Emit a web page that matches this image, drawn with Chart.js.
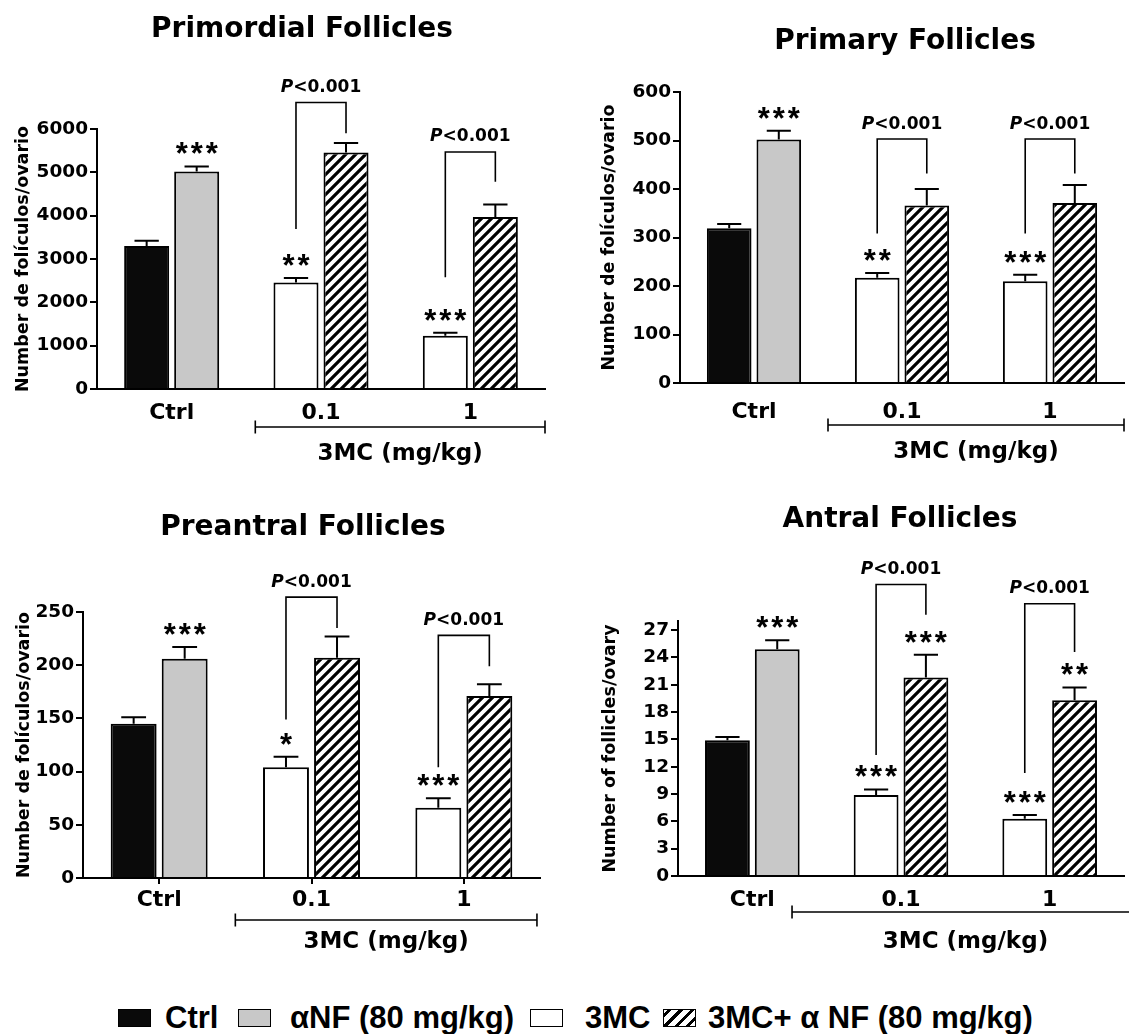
<!DOCTYPE html>
<html>
<head>
<meta charset="utf-8">
<script src="https://cdn.jsdelivr.net/npm/chart.js@4.4.1/dist/chart.umd.min.js"></script>
<style>
    html, body { margin: 0; padding: 0; background: #fff; }
    #fig { position: relative; width: 1129px; height: 1034px; overflow: hidden; background: #fff; }
    #fig canvas { position: absolute; }
    .sw { position: absolute; top: 1009px; width: 31px; height: 16px; border: 1.5px solid #000; box-sizing: content-box; }
    .lt { position: absolute; top: 1000px; line-height: 31px; white-space: nowrap;
          font: bold 31px "Liberation Sans", Arial, sans-serif; color: #000; }
</style>
</head>
<body>
<div id="fig">
    <canvas id="c_primordial" width="560" height="470" style="left:0px;top:0px"></canvas>
    <canvas id="c_primary" width="569" height="470" style="left:560px;top:0px"></canvas>
    <canvas id="c_preantral" width="560" height="490" style="left:0px;top:480px"></canvas>
    <canvas id="c_antral" width="569" height="490" style="left:560px;top:480px"></canvas>
    <div id="legend"></div>
</div>
<script>
// ---- data -------------------------------------------------------------
const categories = ['Ctrl', '0.1', '1'];
const legendLabels = ['Ctrl', 'αNF (80 mg/kg)', '3MC', '3MC+ α NF (80 mg/kg)'];

// left bar of each group = Ctrl / 3MC, right bar = αNF / 3MC+αNF
const primordialLeft = [3300, 2460, 1230];
const primordialLeftErr = [120, 100, 70];
const primordialRight = [5020, 5455, 3970];
const primordialRightErr = [115, 220, 290];
const primordialStarsLeft = ['', '**', '***'];
const primordialStarsRight = ['***', '', ''];
// [group, left leg end, bracket top, right leg end] in axis units
const primordialPairs = [[1, 3690, 6610, 5900], [2, 2580, 5470, 4780]];
const primordialTicks = [0, 1000, 2000, 3000, 4000, 5000, 6000];

const primaryLeft = [319, 217, 210];
const primaryLeftErr = [9, 10, 13];
const primaryRight = [502, 366, 371];
const primaryRightErr = [18, 34, 37];
const primaryStarsLeft = ['', '**', '***'];
const primaryStarsRight = ['***', '', ''];
const primaryPairs = [[1, 308, 503, 432], [2, 308, 503, 432]];
const primaryTicks = [0, 100, 200, 300, 400, 500, 600];

const preantralLeft = [145, 104, 66];
const preantralLeftErr = [6, 10, 9];
const preantralRight = [206, 207, 171];
const preantralRightErr = [11, 20, 11];
const preantralStarsLeft = ['', '*', '***'];
const preantralStarsRight = ['***', '', ''];
const preantralPairs = [[1, 149, 264, 235], [2, 104, 228, 199]];
const preantralTicks = [0, 50, 100, 150, 200, 250];

const antralLeft = [14.9, 8.9, 6.3];
const antralLeftErr = [0.35, 0.6, 0.4];
const antralRight = [24.9, 21.8, 19.3];
const antralRightErr = [1.0, 2.5, 1.4];
const antralStarsLeft = ['', '***', '***'];
const antralStarsRight = ['***', '***', '**'];
const antralPairs = [[1, 13.3, 32, 28.7], [2, 11.3, 29.9, 24.6]];
const antralTicks = [0, 3, 6, 9, 12, 15, 18, 21, 24, 27];

// ---- styling ----------------------------------------------------------
const FONT = 'DejaVu Sans';
const BLACK = '#0a0a0a', GRAY = '#c8c8c8', WHITE = '#ffffff';

function hatchPattern() {
    const c = document.createElement('canvas');
    c.width = 10; c.height = 10;
    const g = c.getContext('2d');
    g.fillStyle = '#fff';
    g.fillRect(0, 0, 10, 10);
    g.strokeStyle = '#000';
    g.lineWidth = 3.2;
    g.beginPath();
    g.moveTo(-2, 12); g.lineTo(12, -2);
    g.moveTo(-7, 7); g.lineTo(7, -7);
    g.moveTo(3, 17); g.lineTo(17, 3);
    g.stroke();
    return g.createPattern(c, 'repeat');
}
const HATCH = hatchPattern();

function drawStars(ctx, s, cx, cy) {
    ctx.font = 'bold 31px "Liberation Sans"';
    ctx.textAlign = 'center';
    const m = ctx.measureText('*');
    const base = cy + (m.actualBoundingBoxAscent - m.actualBoundingBoxDescent) / 2;
    const pitch = 15;
    for (let k = 0; k < s.length; k++) {
        ctx.fillText('*', cx + (k - (s.length - 1) / 2) * pitch, base);
    }
}

function drawP(ctx, cx, cy) {
    const fI = `italic bold 17px ${FONT}`, fB = `bold 17px ${FONT}`;
    ctx.font = fI; const wP = ctx.measureText('P').width;
    ctx.font = fB; const wR = ctx.measureText('<0.001').width;
    const capH = ctx.measureText('0').actualBoundingBoxAscent;
    const base = cy + capH / 2;
    const x0 = cx - (wP + wR) / 2;
    ctx.textAlign = 'left';
    ctx.font = fI; ctx.fillText('P', x0, base);
    ctx.font = fB; ctx.fillText('<0.001', x0 + wP, base);
}

function capCenter(ctx, str, cx, cy) {
    ctx.textAlign = 'center';
    const capH = ctx.measureText('H').actualBoundingBoxAscent;
    ctx.fillText(str, cx, cy + capH / 2);
}

// error bars, significance marks, comparison brackets, group bracket, title
const annotPlugin = {
    id: 'annot',
    afterDraw(chart, args, opts) {
        const ctx = chart.ctx;
        const xs = chart.scales.x, ys = chart.scales.y;
        const area = chart.chartArea;
        ctx.save();
        ctx.strokeStyle = '#000';
        ctx.fillStyle = '#000';
        ctx.textBaseline = 'alphabetic';

        [0, 1].forEach(di => {
            const meta = chart.getDatasetMeta(di);
            const vals = chart.data.datasets[di].data;
            meta.data.forEach((bar, i) => {
                const topPx = ys.getPixelForValue(vals[i] + opts.errors[di][i]);
                const half = bar.width * 0.27;
                ctx.lineWidth = 2;
                ctx.beginPath();
                ctx.moveTo(bar.x, bar.y);
                ctx.lineTo(bar.x, topPx);
                ctx.moveTo(bar.x - half, topPx);
                ctx.lineTo(bar.x + half, topPx);
                ctx.stroke();
                if (opts.stars[di][i]) drawStars(ctx, opts.stars[di][i], bar.x, topPx - 18);
            });
        });

        const m0 = chart.getDatasetMeta(0), m1 = chart.getDatasetMeta(1);
        opts.pairs.forEach(([g, lv, tv, rv]) => {
            const xl = m0.data[g].x, xr = m1.data[g].x;
            const yt = ys.getPixelForValue(tv);
            ctx.lineWidth = 1.6;
            ctx.beginPath();
            ctx.moveTo(xl, ys.getPixelForValue(lv));
            ctx.lineTo(xl, yt);
            ctx.lineTo(xr, yt);
            ctx.lineTo(xr, ys.getPixelForValue(rv));
            ctx.stroke();
            drawP(ctx, (xl + xr) / 2, yt - 17);
        });

        // 3MC (mg/kg) group bracket under the axis
        const gx0 = xs.getPixelForValue(opts.group.from);
        const gx1 = xs.getPixelForValue(opts.group.to);
        const gy = area.bottom + opts.group.off;
        ctx.lineWidth = 1.6;
        ctx.beginPath();
        ctx.moveTo(gx0, gy); ctx.lineTo(gx1, gy);
        ctx.moveTo(gx0, gy - 6.5); ctx.lineTo(gx0, gy + 6.5);
        if (gx1 < chart.width) { ctx.moveTo(gx1, gy - 6.5); ctx.lineTo(gx1, gy + 6.5); }
        ctx.stroke();
        ctx.font = `bold 23px ${FONT}`;
        capCenter(ctx, '3MC (mg/kg)', (gx0 + Math.min(gx1, chart.width + 10)) / 2, area.bottom + opts.group.labelOff);

        ctx.font = `bold 28px ${FONT}`;
        capCenter(ctx, opts.title.text, opts.title.x, opts.title.y);
        ctx.restore();
    }
};

function makePanel(id, p) {
    const canvas = document.getElementById(id);
    return new Chart(canvas, {
        type: 'bar',
        data: {
            labels: categories,
            datasets: [
                { data: p.left, backgroundColor: [BLACK, WHITE, WHITE], borderColor: '#000', borderWidth: 2 },
                { data: p.right, backgroundColor: [GRAY, HATCH, HATCH], borderColor: '#000', borderWidth: 2 },
            ],
        },
        options: {
            responsive: false,
            animation: false,
            events: [],
            layout: { padding: { top: p.padTop, right: p.padRight, left: 0, bottom: 0 } },
            datasets: { bar: { categoryPercentage: 0.67, barPercentage: 0.9 } },
            plugins: {
                legend: { display: false },
                tooltip: { enabled: false },
                annot: {
                    errors: [p.leftErr, p.rightErr],
                    stars: [p.starsLeft, p.starsRight],
                    pairs: p.pairs,
                    group: p.group,
                    title: p.title,
                },
            },
            scales: {
                x: {
                    grid: { display: !!p.xTicks, drawOnChartArea: false, offset: false, tickLength: 6, color: '#000', lineWidth: 2 },
                    border: { display: true, color: '#000', width: 2 },
                    ticks: { color: '#000', padding: p.xPad, maxRotation: 0, autoSkip: false,
                             font: { family: FONT, weight: 'bold', size: 22 } },
                    afterFit: (s) => { s.height = p.xH; },
                },
                y: {
                    min: 0,
                    max: p.max,
                    grid: { drawOnChartArea: false, tickLength: 7, color: '#000', lineWidth: 2 },
                    border: { display: true, color: '#000', width: 2 },
                    ticks: { color: '#000', padding: 2, autoSkip: false,
                             font: { family: FONT, weight: 'bold', size: 18.5 },
                             callback: (v) => String(v) },
                    title: { display: true, text: p.yTitle, color: '#000',
                             font: { family: FONT, weight: 'bold', size: 17.5 },
                             padding: { top: p.yTitlePad, bottom: 0 } },
                    afterBuildTicks: (s) => { s.ticks = p.ticks.map(v => ({ value: v })); },
                    afterFit: (s) => { s.width = p.yW; },
                },
            },
        },
        plugins: [annotPlugin],
    });
}

makePanel('c_primordial', {
    left: primordialLeft, leftErr: primordialLeftErr, right: primordialRight, rightErr: primordialRightErr,
    starsLeft: primordialStarsLeft, starsRight: primordialStarsRight, pairs: primordialPairs,
    ticks: primordialTicks, max: 6000, yTitle: 'Number de folículos/ovario',
    yW: 97, padTop: 129, padRight: 15, xH: 81, xPad: 5, yTitlePad: 13,
    title: { text: 'Primordial Follicles', x: 302, y: 26 },
    group: { from: 0.56, to: 2.5, off: 38, labelOff: 62 },
});

makePanel('c_primary', {
    left: primaryLeft, leftErr: primaryLeftErr, right: primaryRight, rightErr: primaryRightErr,
    starsLeft: primaryStarsLeft, starsRight: primaryStarsRight, pairs: primaryPairs,
    ticks: primaryTicks, max: 600, yTitle: 'Number de folículos/ovario',
    yW: 120, padTop: 92, padRight: 5, xH: 87, xPad: 10, yTitlePad: 38.5,
    title: { text: 'Primary Follicles', x: 345, y: 38.5 },
    group: { from: 0.5, to: 2.5, off: 42, labelOff: 66 },
});

makePanel('c_preantral', {
    left: preantralLeft, leftErr: preantralLeftErr, right: preantralRight, rightErr: preantralRightErr,
    starsLeft: preantralStarsLeft, starsRight: preantralStarsRight, pairs: preantralPairs,
    ticks: preantralTicks, max: 250, yTitle: 'Number de folículos/ovario',
    yW: 83, padTop: 132, padRight: 20, xH: 92, xPad: 3, xTicks: true, yTitlePad: 13.5,
    title: { text: 'Preantral Follicles', x: 303, y: 44 },
    group: { from: 0.5, to: 2.48, off: 42, labelOff: 61 },
});

makePanel('c_antral', {
    left: antralLeft, leftErr: antralLeftErr, right: antralRight, rightErr: antralRightErr,
    starsLeft: antralStarsLeft, starsRight: antralStarsRight, pairs: antralPairs,
    ticks: antralTicks, max: 28, yTitle: 'Number of follicles/ovary',
    yW: 118, padTop: 141, padRight: 5, xH: 94, xPad: 5, yTitlePad: 39.5,
    title: { text: 'Antral Follicles', x: 340, y: 36 },
    group: { from: 0.267, to: 2.6, off: 36, labelOff: 63 },
});

// ---- legend -----------------------------------------------------------
const legendSwatches = [
    { box: 118, text: 165, bg: BLACK },
    { box: 238, text: 290, bg: GRAY },
    { box: 530, text: 585, bg: WHITE },
    { box: 663, text: 708, bg: 'repeating-linear-gradient(135deg, #fff 0 2.5px, #000 2.5px 5.5px, #fff 5.5px 8px)' },
];
const legendEl = document.getElementById('legend');
legendLabels.forEach((label, i) => {
    const s = legendSwatches[i];
    const box = document.createElement('div');
    box.className = 'sw';
    box.style.left = s.box + 'px';
    box.style.background = s.bg;
    legendEl.appendChild(box);
    const t = document.createElement('div');
    t.className = 'lt';
    t.style.left = s.text + 'px';
    t.textContent = label;
    legendEl.appendChild(t);
});
</script>
</body>
</html>
